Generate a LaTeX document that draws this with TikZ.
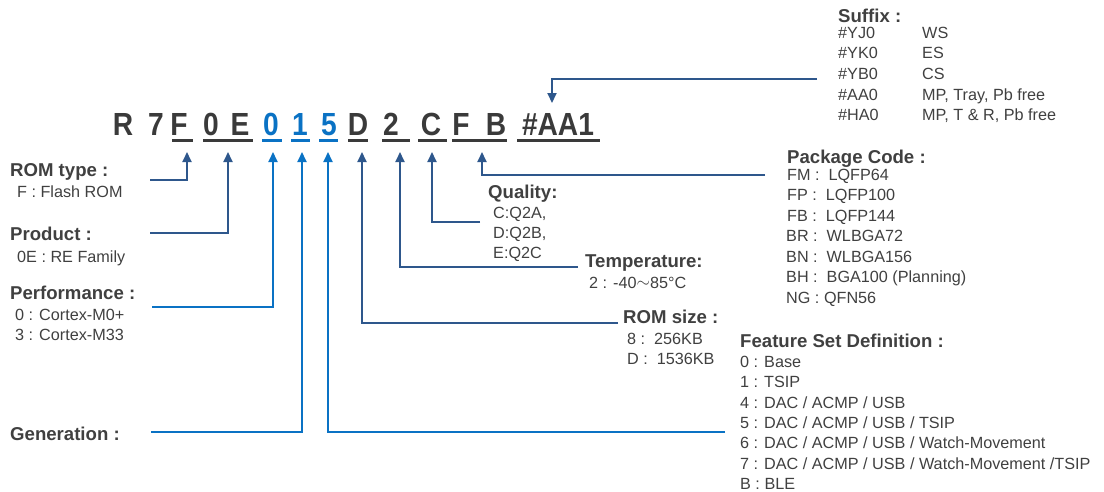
\documentclass[tikz,border=0pt]{standalone}
\usepackage{fontspec}
\setmainfont{Liberation Sans}
\newfontfamily\codefont[FakeStretch=0.88]{Liberation Sans}
\usetikzlibrary{arrows.meta}
\definecolor{txt}{HTML}{404040}
\definecolor{code}{HTML}{3A3A3A}
\definecolor{dblue}{HTML}{2E578C}
\definecolor{lblue}{HTML}{0A72C4}
\tikzset{
  title/.style={anchor=base west,inner sep=0pt,text=txt,font=\fontsize{18.6}{20}\selectfont\bfseries},
  entry/.style={anchor=base west,inner sep=0pt,text=txt,font=\fontsize{16.2}{18}\selectfont},
  ch/.style={anchor=base,inner sep=0pt,text=code,font=\codefont\fontsize{32}{34}\selectfont\bfseries},
  chb/.style={ch,text=lblue},
  uline/.style={line width=2.5pt,draw=code},
  ulineb/.style={uline,draw=lblue},
  conn/.style={line width=2pt,draw=dblue,-{Triangle[length=10pt,width=9pt]}},
  connb/.style={conn,draw=lblue},
}
\begin{document}
\begin{tikzpicture}[x=1pt,y=-1pt]
\useasboundingbox (0,0) rectangle (1104,491);
% code characters
\node[ch]  (cR) at (123,135) {R};
\node[ch]  (c7) at (156,135) {7};
\node[ch]  (cF) at (179,135) {F};
\node[ch]  (c0) at (211,135) {0};
\node[ch]  (cE) at (240,135) {E};
\node[chb] (b0) at (271,135) {0};
\node[chb] (b1) at (300,135) {1};
\node[chb] (b5) at (329,135) {5};
\node[ch]  (cD) at (358,135) {D};
\node[ch]  (c2) at (391,135) {2};
\node[ch]  (cC) at (431,135) {C};
\node[ch]  (cF2) at (461,135) {F};
\node[ch]  (cB) at (496,135) {B};
\node[ch]  (cS) at (558,135) {\#AA1};
% underlines
\draw[uline] (172,140.5) -- (193,140.5);
\draw[uline] (203,140.5) -- (253,140.5);
\draw[ulineb] (262,140.5) -- (282,140.5);
\draw[ulineb] (291,140.5) -- (310,140.5);
\draw[ulineb] (319,140.5) -- (338,140.5);
\draw[uline] (348,140.5) -- (368,140.5);
\draw[uline] (382,140.5) -- (410,140.5);
\draw[uline] (418,140.5) -- (447,140.5);
\draw[uline] (452,140.5) -- (507,140.5);
\draw[uline] (517,140.5) -- (600,140.5);
% arrow targets
\coordinate (tF) at (187,152);
\coordinate (tE) at (228,152);
\coordinate (t0) at (273,152);
\coordinate (t1) at (302,152);
\coordinate (t5) at (328,152);
\coordinate (tD) at (362,152);
\coordinate (t2) at (400,152);
\coordinate (tC) at (432,152);
\coordinate (tB) at (482,152);
\coordinate (tS) at (552,103);
% left labels
\node[title] (romt) at (10,176) {ROM type :};
\node[entry] (romt1) at (17,197) {F : Flash ROM};
\node[title] (prod) at (10,240) {Product :};
\node[entry] (prod1) at (17,262) {0E : RE Family};
\node[title] (perf) at (10,299) {Performance :};
\node[entry] (perf1) at (15,320) {0 : Cortex-M0+};
\node[entry] (perf2) at (15,340) {3 : Cortex-M33};
\node[title] (gen) at (10,440) {Generation :};
% middle labels
\node[title] (qual) at (488,198) {Quality:};
\node[entry] (qual1) at (493,218) {C:Q2A,};
\node[entry] (qual2) at (493,238) {D:Q2B,};
\node[entry] (qual3) at (493,258) {E:Q2C};
\node[title] (temp) at (585,267) {Temperature:};
\node[entry] (temp1) at (589,288) {2 : -40\raisebox{1pt}{$\sim$}85\textdegree C};
\node[title] (roms) at (623,323) {ROM size :};
\node[entry] (roms1) at (627,344) {8 :\ \ 256KB};
\node[entry] (roms2) at (627,364) {D :\ \ 1536KB};
% suffix
\node[title] (suf) at (838,22) {Suffix :};
\foreach \c/\d/\y [count=\i] in {\#YJ0/WS/38,\#YK0/ES/58,\#YB0/CS/79,\#AA0/{MP, Tray, Pb free}/100,\#HA0/{MP, T \& R, Pb free}/120}{
  \node[entry] (sufa\i) at (838,\y) {\c};
  \node[entry] (sufb\i) at (922,\y) {\d};
}
% package code
\node[title] (pkg) at (787,163) {Package Code :};
\node[entry] (pkg1) at (787,180) {FM :\ \ LQFP64};
\node[entry] (pkg2) at (787,200) {FP :\ \ LQFP100};
\node[entry] (pkg3) at (787,221) {FB :\ \ LQFP144};
\node[entry] (pkg4) at (786,241) {BR :\ \ WLBGA72};
\node[entry] (pkg5) at (786,262) {BN :\ \ WLBGA156};
\node[entry] (pkg6) at (786,282) {BH :\ \ BGA100 (Planning)};
\node[entry] (pkg7) at (786,303) {NG : QFN56};
% feature set
\node[title] (feat) at (740,347) {Feature Set Definition :};
\foreach \t/\y [count=\i] in {{0 : Base}/367,{1 : TSIP}/387,{4 : DAC / ACMP / USB}/408,{5 : DAC / ACMP / USB / TSIP}/428,{6 : DAC / ACMP / USB / Watch-Movement}/448,{7 : DAC / ACMP / USB / Watch-Movement /TSIP}/469,{B : BLE}/489}{
  \node[entry] (feat\i) at (740,\y) {\t};
}
% connector start points
\coordinate (sRom) at (150,180);
\coordinate (sProd) at (150,233);
\coordinate (sPerf) at (152,307);
\coordinate (sGen) at (151,432);
\coordinate (sFeat) at (725,432);
\coordinate (sRoms) at (618,323);
\coordinate (sTemp) at (578,267);
\coordinate (sQual) at (480,222);
\coordinate (sPkg) at (765,175);
\coordinate (sSuf) at (817,79);
% connectors
\draw[conn] (sRom) -| (tF);
\draw[conn] (sProd) -| (tE);
\draw[connb] (sPerf) -| (t0);
\draw[connb] (sGen) -| (t1);
\draw[connb] (sFeat) -| (t5);
\draw[conn] (sRoms) -| (tD);
\draw[conn] (sTemp) -| (t2);
\draw[conn] (sQual) -| (tC);
\draw[conn] (sPkg) -| (tB);
\draw[conn] (sSuf) -| (tS);
\end{tikzpicture}
\end{document}
